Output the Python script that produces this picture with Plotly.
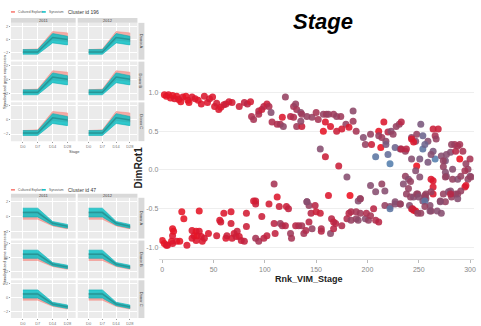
import plotly.graph_objects as go

W, H = 481, 326

# ---------------- scatter data (Rnk_VIM_Stage vs DimRot1) ----------------
rank = [2,4,6,8,10,12,14,16,18,20,23,25,26,29,32,35,38,41,44,46,49,51,53,55,57,60,62,65,68,75,80,83,86,87,89,94,94,97,99,102,104,106,107,112,115,117,118,120,125,128,128,130,131,135,136,131,136,135,141,146,150,152,157,160,162,167,170,174,179,186,186,159,157,164,170,175,182,189,196,198,203,204,211,216,213,211,214,218,220,223,225,228,231,233,218,227,232,237,208,220,222,233,238,243,247,248,252,254,259,243,248,251,254,256,259,266,264,264,269,266,267,272,276,281,285,286,290,293,290,296,300,298,300,243,245,262,274,277,282,288,154,159,172,180,109,
        274,276,277,276,283,283,288,291,295,298,301,295,296,291,288,281,282,274,279,286,288,264,264,276,262,264,237,240,235,240,247,242,238,242,245,251,249,256,257,262,248,250,256,257,254,261,262,268,271,243,247,245,252,227,232,222,203,208,214,217,183,193,162,112,91,141,143,
        0,2,4,5,9,10,14,17,10,10,11,19,21,24,29,31,29,33,33,34,36,38,39,41,36,45,53,56,57,60,67,67,62,63,68,70,72,73,75,77,80,82,82,91,89,91,94,97,99,102,104,109,110,114,115,117,120,121,123,125,126,130,133,136,138,140,141,143,145,146,149,150,154,155,155,164,165,167,169,167,175,180,182,184,189,193,184,189,191,198,201,199,203,206,208,211,191,193,217,222,227,232,241,244,249,256,256,261,271,272,281]
dimrot1 = [0.97,0.95,0.97,0.93,0.96,0.92,0.95,0.91,0.88,0.94,0.95,0.90,0.87,0.94,0.92,0.90,0.85,0.95,0.87,0.92,0.94,0.82,0.86,0.78,0.81,0.84,0.85,0.88,0.87,0.82,0.87,0.85,0.88,0.69,0.65,0.76,0.72,0.78,0.82,0.85,0.82,0.74,0.62,0.59,0.59,0.68,0.56,0.94,0.69,0.68,0.82,0.85,0.78,0.74,0.72,0.56,0.56,0.63,0.69,0.68,0.74,0.65,0.72,0.72,0.72,0.72,0.69,0.69,0.59,0.76,0.63,0.62,0.50,0.56,0.50,0.53,0.55,0.50,0.42,0.33,0.46,0.33,0.50,0.62,0.29,0.44,0.42,0.37,0.49,0.50,0.46,0.56,0.59,0.62,0.33,0.29,0.27,0.24,0.17,0.20,0.08,0.27,0.27,0.42,0.37,0.46,0.59,0.44,0.37,0.14,0.05,0.14,0.27,0.33,0.10,0.14,0.24,0.53,0.53,0.44,0.40,0.18,0.12,0.23,0.33,0.24,0.33,0.24,0.14,0.08,0.14,0.01,-0.08,0.40,0.36,0.20,0.12,0.20,0.33,0.31,0.27,0.17,0.05,-0.09,-0.18,
           0.04,-0.03,-0.08,-0.09,0.01,-0.12,-0.12,-0.08,-0.01,-0.12,-0.09,-0.22,-0.20,-0.27,-0.31,-0.27,-0.35,-0.31,-0.28,-0.31,-0.37,-0.14,-0.31,-0.41,-0.12,-0.22,-0.08,-0.12,-0.18,-0.24,-0.01,-0.15,-0.31,-0.35,-0.35,-0.09,-0.31,-0.35,-0.31,-0.28,-0.31,-0.35,-0.33,-0.37,-0.40,-0.46,-0.53,-0.53,-0.40,-0.50,-0.53,-0.52,-0.56,-0.41,-0.44,-0.47,-0.20,-0.28,-0.18,-0.27,-0.33,-0.37,-0.33,-0.35,-0.40,-0.41,-0.46,
           -0.91,-0.95,-0.97,-0.97,-0.92,-0.95,-0.92,-0.92,-0.76,-0.85,-0.79,-0.54,-0.63,-0.97,-0.78,-0.85,-0.88,-0.79,-0.91,-0.85,-0.79,-0.86,-0.92,-0.88,-0.53,-0.82,-0.85,-0.65,-0.67,-0.56,-0.54,-0.69,-0.88,-0.85,-0.88,-0.82,-0.86,-0.79,-0.86,-0.91,-0.92,-0.73,-0.56,-0.44,-0.40,-0.88,-0.92,-0.60,-0.88,-0.85,-0.44,-0.69,-0.82,-0.47,-0.69,-0.72,-0.72,-0.47,-0.50,-0.82,-0.88,-0.72,-0.72,-0.72,-0.82,-0.78,-0.41,-0.67,-0.56,-0.76,-0.46,-0.54,-0.56,-0.79,-0.76,-0.82,-0.63,-0.67,-0.69,-0.76,-0.72,-0.63,-0.56,-0.54,-0.54,-0.56,-0.65,-0.63,-0.65,-0.63,-0.65,-0.56,-0.59,-0.50,-0.65,-0.67,-0.40,-0.37,-0.46,-0.50,-0.44,-0.44,-0.46,-0.50,-0.56,-0.40,-0.47,-0.53,-0.41,-0.56,-0.31]
colour_value = [0.05,0.05,0.08,0.05,0.05,0.1,0.05,0.08,0.05,0.1,0.05,0.08,0.05,0.1,0.1,0.08,0.1,0.12,0.1,0.15,0.1,0.12,0.15,0.12,0.1,0.15,0.2,0.15,0.15,0.2,0.25,0.3,0.15,0.35,0.4,0.3,0.35,0.2,0.3,0.2,0.35,0.6,0.35,0.35,0.4,0.1,0.55,0.5,0.3,0.35,0.4,0.5,0.4,0.55,0.45,0.45,0.2,0.55,0.5,0.5,0.4,0.4,0.5,0.45,0.5,0.45,0.5,0.45,0.5,0.55,0.45,0.1,0.05,0.1,0.2,0.15,0.1,0.4,0.6,0.5,0.5,0.2,0.05,0.1,0.0,0.5,0.45,0.55,0.3,0.6,0.5,0.5,0.5,0.3,0.7,0.8,0.6,0.5,0.9,0.85,0.95,0.3,0.3,0.6,0.6,0.5,0.7,0.8,0.6,0.6,0.0,0.7,0.9,0.8,0.7,0.95,0.7,0.2,0.2,0.4,0.5,0.6,0.7,0.6,0.4,0.3,0.4,0.4,0.0,0.5,0.4,0.5,0.6,0.1,0.1,0.6,0.5,0.6,0.5,0.4,0.6,0.2,0.2,0.6,0.4,
                0.5,0.6,0.6,0.5,0.6,0.5,0.6,0.5,0.4,0.5,0.5,0.1,0.1,0.5,0.5,0.6,0.5,0.5,0.6,0.5,0.6,0.1,0.1,0.5,0.1,0.1,0.5,0.6,0.6,0.5,0.6,0.5,0.5,0.5,0.6,0.6,0.5,0.6,0.5,0.5,0.5,0.6,0.5,0.5,0.6,0.6,0.5,0.6,0.5,0.1,0.05,0.1,0.5,0.6,0.5,0.6,0.6,0.6,0.5,0.6,0.0,0.4,0.1,0.1,0.2,0.5,0.5,
                0.05,0.05,0.05,0.1,0.05,0.1,0.1,0.05,0.05,0.1,0.05,0.05,0.05,0.1,0.1,0.1,0.1,0.05,0.1,0.05,0.1,0.1,0.1,0.15,0.05,0.1,0.15,0.1,0.15,0.1,0.1,0.15,0.1,0.2,0.15,0.15,0.2,0.2,0.15,0.2,0.25,0.2,0.15,0.2,0.15,0.4,0.4,0.2,0.3,0.25,0.15,0.3,0.25,0.2,0.45,0.4,0.3,0.2,0.25,0.45,0.4,0.3,0.35,0.4,0.4,0.35,0.6,0.3,0.3,0.5,0.3,0.2,0.2,0.3,0.35,0.55,0.3,0.25,0.3,0.3,0.35,0.35,0.3,0.35,0.4,0.45,0.5,0.5,0.55,0.6,0.5,0.35,0.4,0.3,0.35,0.3,0.6,0.5,0.5,0.9,0.6,0.5,0.6,0.2,0.5,0.9,0.5,0.6,0.6,0.6,0.3]

X_TICKS = [0, 50, 100, 150, 200, 250, 300]
Y_TICKS = [-1.0, -0.5, 0.0, 0.5, 1.0]
Y_TICK_TEXT = ["-1.0", "-0.5", "0.0", "0.5", "1.0"]

# ---------------- left facet panels ----------------
STAGES = [1, 2, 3, 4]
STAGE_LABELS = ["D0", "D7", "D14", "D28"]
COL_LABELS = ["2011", "2012"]
ROW_LABELS = ["Donor A", "Donor B", "Donor C"]
LEGEND_LABELS = ["Cultured Explant", "Synovium"]
CLUSTERS = ["Cluster id 196", "Cluster id 47"]
PANEL_Y_TICKS = [-2, 0, 2]

UP_SALMON_LO = [-2.0, -2.0, -0.1, -0.3]
UP_SALMON_HI = [-1.5, -1.4, 1.2, 1.0]
UP_TEAL_LO = [-2.2, -2.2, -0.5, -0.8]
UP_TEAL_HI = [-1.5, -1.5, 0.9, 0.5]
UP_CORE = [-1.85, -1.85, 0.3, 0.0]

DN_SALMON_LO = [-0.4, -0.4, -1.3, -1.7]
DN_SALMON_HI = [0.6, 0.7, -0.8, -1.3]
DN_TEAL_LO = [-0.1, -0.1, -1.2, -1.6]
DN_TEAL_HI = [1.1, 1.1, -0.7, -1.1]
DN_CORE = [0.5, 0.5, -0.95, -1.35]

SALMON = "rgba(248,118,109,0.55)"
TEAL = "rgba(0,191,196,0.80)"
CORE = "rgba(30,120,120,0.55)"

FONT = "Liberation Sans, Arial, sans-serif"

fig = go.Figure()
layout = {}
shapes = []
annotations = []

def xp(p):
    return p / W

def yp(p):
    return 1 - p / H

def note(text, x, y, size, color="#444", xanchor="center", angle=0):
    annotations.append(dict(text=text, x=xp(x), y=yp(y), xref="paper", yref="paper", showarrow=False,
                            xanchor=xanchor, yanchor="middle", textangle=angle,
                            font=dict(size=size, color=color, family=FONT)))

col_px = [(11, 76), (78, 138)]
blocks = [
    dict(rows=[(23, 60), (62, 101), (103, 142)], strip=(18, 23), head=12,
         bands=(UP_SALMON_LO, UP_SALMON_HI, UP_TEAL_LO, UP_TEAL_HI, UP_CORE), title=CLUSTERS[0], xtitle=152),
    dict(rows=[(199, 240), (242, 280), (282, 320)], strip=(195, 199), head=191,
         bands=(DN_SALMON_LO, DN_SALMON_HI, DN_TEAL_LO, DN_TEAL_HI, DN_CORE), title=CLUSTERS[1], xtitle=None),
]

n = 0
for b in blocks:
    s_lo, s_hi, t_lo, t_hi, core = b["bands"]
    for ri, (r0, r1) in enumerate(b["rows"]):
        for ci, (c0, c1) in enumerate(col_px):
            n += 1
            xa = "x" if n == 1 else f"x{n}"
            ya = "y" if n == 1 else f"y{n}"
            xk = "xaxis" if n == 1 else f"xaxis{n}"
            yk = "yaxis" if n == 1 else f"yaxis{n}"
            fig.add_trace(go.Scatter(x=STAGES + STAGES[::-1], y=s_lo + s_hi[::-1], fill="toself",
                                     fillcolor=SALMON, line=dict(color="rgba(248,118,109,0.7)", width=0.6),
                                     mode="lines", xaxis=xa, yaxis=ya, showlegend=False, hoverinfo="skip"))
            fig.add_trace(go.Scatter(x=STAGES + STAGES[::-1], y=t_lo + t_hi[::-1], fill="toself",
                                     fillcolor=TEAL, line=dict(color="rgba(0,170,175,0.9)", width=0.6),
                                     mode="lines", xaxis=xa, yaxis=ya, showlegend=False, hoverinfo="skip"))
            fig.add_trace(go.Scatter(x=STAGES, y=core, mode="lines", line=dict(color=CORE, width=1.5),
                                     xaxis=xa, yaxis=ya, showlegend=False, hoverinfo="skip"))
            bottom = ri == 2
            left = ci == 0
            layout[xk] = dict(domain=[xp(c0), xp(c1)], range=[0.2, 4.55], anchor=ya,
                              tickvals=STAGES, ticktext=STAGE_LABELS, showticklabels=bottom,
                              ticks="outside" if bottom else "", ticklen=1, tickcolor="#999",
                              tickfont=dict(size=4, color="#777", family=FONT),
                              showgrid=True, gridcolor="white", gridwidth=0.6, zeroline=False, fixedrange=True)
            layout[yk] = dict(domain=[yp(r1), yp(r0)], range=[-3, 2.5], anchor=xa,
                              tickvals=PANEL_Y_TICKS, showticklabels=left,
                              ticks="outside" if left else "", ticklen=1, tickcolor="#999",
                              tickfont=dict(size=4, color="#777", family=FONT),
                              showgrid=True, gridcolor="white", gridwidth=0.6, zeroline=False, fixedrange=True)
            shapes.append(dict(type="rect", xref=f"{xa} domain", yref=f"{ya} domain", x0=0, x1=1, y0=0, y1=1,
                               fillcolor="#EBEBEB", line=dict(width=0), layer="below"))
            if ri == 0:
                shapes.append(dict(type="rect", xref="paper", yref="paper", x0=xp(c0), x1=xp(c1),
                                   y0=yp(b["strip"][1]), y1=yp(b["strip"][0]), fillcolor="#D9D9D9",
                                   line=dict(width=0), layer="below"))
                note(COL_LABELS[ci], (c0 + c1) / 2, sum(b["strip"]) / 2, 4)
            if ci == 1:
                shapes.append(dict(type="rect", xref="paper", yref="paper", x0=xp(139), x1=xp(145),
                                   y0=yp(r1), y1=yp(r0), fillcolor="#D9D9D9", line=dict(width=0), layer="below"))
                note(ROW_LABELS[ri], 142, (r0 + r1) / 2, 4, angle=90)
    # block header: legend + title
    hy = yp(b["head"])
    shapes.append(dict(type="line", xref="paper", yref="paper", x0=xp(11), x1=xp(15), y0=hy, y1=hy,
                       line=dict(color="#F8766D", width=1.5)))
    note(LEGEND_LABELS[0], 16, b["head"], 3.3, color="#555", xanchor="left")
    shapes.append(dict(type="line", xref="paper", yref="paper", x0=xp(42), x1=xp(46), y0=hy, y1=hy,
                       line=dict(color="#00BFC4", width=1.5)))
    note(LEGEND_LABELS[1], 47, b["head"], 3.3, color="#555", xanchor="left")
    note(b["title"], 66, b["head"], 5, color="#333", xanchor="left")
    note("Standardized gene expression", 5, (b["rows"][0][0] + b["rows"][2][1]) / 2, 4, angle=-90)
    if b["xtitle"]:
        note("Stage", 75, b["xtitle"], 4)

# ---------------- main scatter ----------------
n += 1
xa, ya = f"x{n}", f"y{n}"
fig.add_trace(go.Scatter(
    x=rank, y=dimrot1, mode="markers", xaxis=xa, yaxis=ya, showlegend=False,
    marker=dict(size=7, color=colour_value, cmin=0, cmax=1, opacity=0.88,
                colorscale=[[0, "#EE1020"], [0.3, "#B82646"], [0.55, "#8C4868"], [0.75, "#745C82"], [1, "#4C86B8"]],
                line=dict(width=0))))
layout[f"xaxis{n}"] = dict(domain=[xp(160), xp(476)], range=[-2.9, 303.9], anchor=ya,
                           tickvals=X_TICKS, ticks="outside", ticklen=3, tickcolor="#BBBBBB",
                           showline=True, linecolor="#DDDDDD", linewidth=1, showgrid=False, zeroline=False,
                           tickfont=dict(size=7, color="#888", family=FONT))
layout[f"yaxis{n}"] = dict(domain=[yp(261), yp(85)], range=[-1.154, 1.103], anchor=xa,
                           tickvals=Y_TICKS, ticktext=Y_TICK_TEXT, ticks="", showline=False,
                           showgrid=True, gridcolor="#EEEEEE", gridwidth=1, zeroline=False,
                           tickfont=dict(size=7, color="#888", family=FONT))

note("<b><i>Stage</i></b>", 324, 22, 22, color="#000")
note("<b>DimRot1</b>", 140, 168, 10, color="#222", angle=-90)
note("<b>Rnk_VIM_Stage</b>", 310, 281, 9, color="#222")

fig.update_layout(width=W, height=H, margin=dict(l=0, r=0, t=0, b=0), paper_bgcolor="white",
                  plot_bgcolor="white", shapes=shapes, annotations=annotations, **layout)
fig.write_html("out.html")
